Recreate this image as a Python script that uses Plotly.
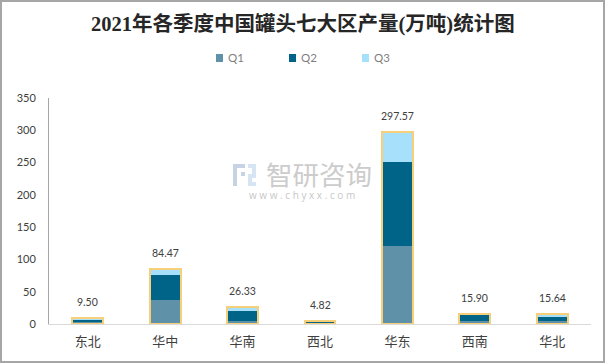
import plotly.graph_objects as go

categories = ["东北", "华中", "华南", "西北", "华东", "西南", "华北"]
q1 = [3.0, 37.0, 5.0, 1.0, 121.0, 4.6, 4.6]
q2 = [4.5, 39.0, 15.5, 3.5, 130.4, 11.0, 6.7]
q3 = [2.0, 8.47, 5.83, 0.32, 46.17, 0.3, 4.34]
totals = [9.50, 84.47, 26.33, 4.82, 297.57, 15.90, 15.64]
series_names = ["Q1", "Q2", "Q3"]
series_colors = ["#5f91a9", "#006489", "#a6e0fb"]
y_ticks = [0, 50, 100, 150, 200, 250, 300, 350]

W, H = 605, 363
L, R, T, B = 49, 14, 98, 39
PW, PH = W - L - R, H - T - B


def px(x):
    return (x - L) / PW


def py(y):
    return 1 - (y - T) / PH


fig = go.Figure()
for name, vals, col in zip(series_names, [q1, q2, q3], series_colors):
    fig.add_trace(go.Bar(x=categories, y=vals, name=name, marker_color=col,
                         marker_line_width=0, width=0.4, showlegend=False))
fig.add_trace(go.Bar(x=categories, y=totals, name="合计", yaxis="y2", width=0.4,
                     marker=dict(color="rgba(255,255,255,0.001)", line=dict(color="#f5cf7a", width=2)),
                     showlegend=False, hoverinfo="skip"))

annotations = []
for c, t in zip(categories, totals):
    annotations.append(dict(x=c, y=t, text=f"{t:.2f}", showarrow=False, yanchor="bottom",
                            yshift=8, font=dict(family="Lato, Noto Sans CJK SC", size=10.5, color="#404040")))

shapes = [dict(type="rect", xref="paper", yref="paper", x0=px(1), x1=px(W - 1), y0=py(H - 1), y1=py(1),
               line=dict(color="#a6a6a6", width=2), fillcolor="rgba(0,0,0,0)", layer="below")]

# legend
for name, col, x in zip(series_names, series_colors, [216, 289, 362]):
    shapes.append(dict(type="rect", xref="paper", yref="paper", x0=px(x), x1=px(x + 7), y0=py(54), y1=py(62),
                       fillcolor=col, line_width=0))
    annotations.append(dict(xref="paper", yref="paper", x=px(x + 9.5), y=py(58), xanchor="left", yanchor="middle",
                            text=name, showarrow=False, font=dict(family="Lato", size=11.5, color="#7f7f7f")))

# watermark
for x0, y0, x1, y1, col in [(233, 164, 245, 168, "#c7d2e4"), (233, 168, 237, 186, "#c7d2e4"),
                            (241, 172, 245, 176, "#c7d2e4"), (248, 164, 256, 168, "#d5e5f3"),
                            (252, 168, 256, 178, "#d5e5f3"), (248, 174, 252, 186, "#d5e5f3"),
                            (252, 182, 256, 186, "#d5e5f3")]:
    shapes.append(dict(type="rect", xref="paper", yref="paper", x0=px(x0), x1=px(x1), y0=py(y1), y1=py(y0),
                       fillcolor=col, line_width=0, layer="below"))
annotations.append(dict(xref="paper", yref="paper", x=px(318.5), y=py(173), xanchor="center", yanchor="middle",
                        text="智研咨询", showarrow=False,
                        font=dict(family="Noto Sans CJK SC", size=26.5, color="#cccccc")))
annotations.append(dict(xref="paper", yref="paper", x=px(302), y=py(195), xanchor="center", yanchor="middle",
                        text="w w w . c h y x x . c o m", showarrow=False,
                        font=dict(family="Open Sans", size=10, color="#c8c8c8")))
annotations.append(dict(xref="paper", yref="paper", x=px(302.5), y=py(24), xanchor="center", yanchor="middle",
                        text="<b>2021年各季度中国罐头七大区产量(万吨)统计图</b>",
                        showarrow=False, font=dict(family="Liberation Serif, Noto Sans CJK SC", size=20.5, color="#262626")))

fig.update_layout(
    width=W, height=H, barmode="stack", paper_bgcolor="white", plot_bgcolor="white",
    margin=dict(l=L, r=R, t=T, b=B), showlegend=False,
    annotations=annotations, shapes=shapes,
    xaxis=dict(showgrid=False, showline=True, linecolor="#d9d9d9", linewidth=1, ticks="", ticklabelstandoff=5,
               tickfont=dict(family="Noto Sans CJK SC", size=13, color="#404040")),
    yaxis=dict(range=[0, 350], tickvals=y_ticks, showgrid=False, showline=True, linecolor="#a6a6a6",
               linewidth=1, ticks="", zeroline=False, ticklabelstandoff=10,
               tickfont=dict(family="Lato", size=11, color="#404040")),
    yaxis2=dict(range=[0, 350], overlaying="y", visible=False),
)
fig.write_html("out.html", config=dict(displayModeBar=False), post_script="document.body.style.margin='0';")
